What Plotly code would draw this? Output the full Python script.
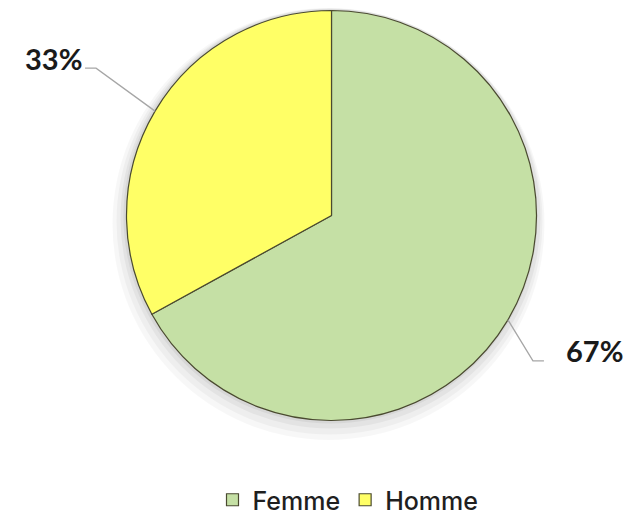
import math
import plotly.graph_objects as go

labels = ["Femme", "Homme"]
values = [67, 33]
text_labels = ["67%", "33%"]
colors = ["#c5e0a5", "#ffff66"]

# the page body has an 8px margin, so the figure is drawn 8px in and 8px down
OFF = 8
W, H = 638 - OFF, 524 - OFF
cx, cy, r = 331.5, 215.5, 205

# knee offsets of the leader lines (pixels from the slice edge)
knees = {"67%": (25, 41), "33%": (-59, -43)}


def px(x, y):
    # reference pixel -> paper
    return (x - OFF) / W, 1 - (y - OFF) / H


def clamp(v):
    return min(1.0, max(0.0, v))


def dom(x0, y0, rad):
    a, b = px(x0 - rad, y0 + rad)
    c, d = px(x0 + rad, y0 - rad)
    return dict(x=[clamp(a), clamp(c)], y=[clamp(b), clamp(d)])


fig = go.Figure()

# soft shadow under the pie
for k, (grow, dx, dy, alpha) in enumerate([(11, -3, 8.5, 0.03), (8, -2, 6, 0.035), (5, -1, 3, 0.045), (2, -1, 1, 0.05)]):
    fig.add_trace(go.Pie(
        values=[1], labels=["s%d" % k], sort=False, textinfo="none", hoverinfo="skip",
        showlegend=False, marker=dict(colors=["rgba(0,0,0,%s)" % alpha], line=dict(width=0)),
        domain=dom(cx + dx, cy + dy, r + grow),
    ))

fig.add_trace(go.Pie(
    labels=labels,
    values=values,
    sort=False,
    direction="clockwise",
    rotation=0,
    textinfo="none",
    hoverinfo="label+percent",
    marker=dict(colors=colors, line=dict(color="#4a4a30", width=1.2)),
    domain=dom(cx, cy, r),
))

# leader lines + labels, from the slice mid angles
total = sum(values)
start = 90.0
for v, t in zip(values, text_labels):
    sweep = 360.0 * v / total
    mid = math.radians(start - sweep / 2)
    start -= sweep
    ex, ey = cx + r * math.cos(mid), cy - r * math.sin(mid)
    kx, ky = ex + knees[t][0], ey + knees[t][1]
    side = 1 if math.cos(mid) > 0 else -1
    hx = kx + side * 11
    pts = [px(ex, ey), px(kx, ky), px(hx, ky)]
    path = "M {} {} L {} {} L {} {}".format(*[c for p in pts for c in p])
    fig.add_shape(type="path", xref="paper", yref="paper", path=path,
                  line=dict(color="#a6a6a6", width=1.3))
    lx, ly = px(hx + side * 20 if side > 0 else hx - 1, ky - 10)
    fig.add_annotation(x=lx, y=ly, xref="paper", yref="paper", text="<b>" + t + "</b>",
                       showarrow=False, xanchor="left" if side > 0 else "right", yanchor="middle",
                       font=dict(family="Lato", size=29, color="#1a1a1a"))

lgx, lgy = px(348, 500)
fig.update_layout(
    width=W, height=H,
    margin=dict(l=0, r=0, t=0, b=0),
    paper_bgcolor="white",
    plot_bgcolor="white",
    showlegend=True,
    legend=dict(orientation="h", x=lgx, xanchor="center", y=lgy, yanchor="middle",
                font=dict(family="Inter", size=25, color="#1f1f1f", weight=500),
                itemwidth=30, traceorder="normal"),
)

fig.write_html("out.html")
